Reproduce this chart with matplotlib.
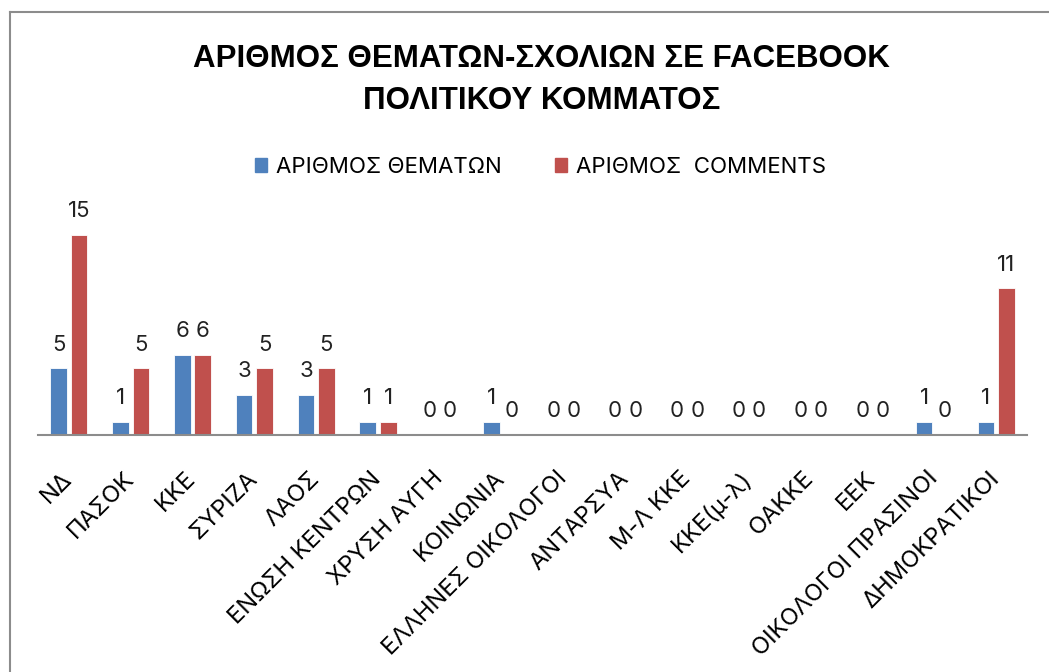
import matplotlib
matplotlib.use("Agg")
import matplotlib.pyplot as plt
from matplotlib.lines import Line2D
import numpy as np

plt.rcParams['font.family'] = ['Inter', 'Noto Sans', 'DejaVu Sans']

## party names and the two series
parties = ['ΝΔ', 'ΠΑΣΟΚ', 'ΚΚΕ', 'ΣΥΡΙΖΑ', 'ΛΑΟΣ', 'ΕΝΩΣΗ ΚΕΝΤΡΩΝ', 'ΧΡΥΣΗ ΑΥΓΗ',
           'ΚΟΙΝΩΝΙΑ', 'ΕΛΛΗΝΕΣ ΟΙΚΟΛΟΓΟΙ', 'ΑΝΤΑΡΣΥΑ', 'Μ-Λ ΚΚΕ', 'ΚΚΕ(μ-λ)',
           'ΟΑΚΚΕ', 'ΕΕΚ', 'ΟΙΚΟΛΟΓΟΙ ΠΡΑΣΙΝΟΙ', 'ΔΗΜΟΚΡΑΤΙΚΟΙ']
topics = [5, 1, 6, 3, 3, 1, 0, 1, 0, 0, 0, 0, 0, 0, 1, 1]
comments = [15, 5, 6, 5, 5, 1, 0, 0, 0, 0, 0, 0, 0, 0, 0, 11]
series_names = ['ΑΡΙΘΜΟΣ ΘΕΜΑΤΩΝ', 'ΑΡΙΘΜΟΣ  COMMENTS']
title = 'ΑΡΙΘΜΟΣ ΘΕΜΑΤΩΝ-ΣΧΟΛΙΩΝ ΣΕ FACEBOOK\nΠΟΛΙΤΙΚΟΥ ΚΟΜΜΑΤΟΣ'

blue = '#4F81BD'
red = '#C0504D'

fig = plt.figure(figsize=(10.49, 6.72), dpi=100)
W, H = 1049.0, 672.0
ax = fig.add_axes([38 / W, 1 - 435 / H, 989 / W, 16 * 13.35 / H])

x = np.arange(len(parties))
off = 0.165
bw = 0.27
b1 = ax.bar(x - off, topics, width=bw, color=blue, edgecolor='white', linewidth=0.6)
b2 = ax.bar(x + off, comments, width=bw, color=red, edgecolor='white', linewidth=0.6)

for bars, vals in ((b1, topics), (b2, comments)):
    for b, v in zip(bars, vals):
        ax.annotate(str(v), (b.get_x() + b.get_width() / 2, v),
                    xytext=(0, 12.7), textcoords='offset points',
                    ha='center', va='baseline', fontsize=16, color='#222222')

ax.set_xlim(-0.5, len(parties) - 0.5)
ax.set_ylim(0, 16)
ax.set_yticks([])
for s in ['top', 'right', 'left']:
    ax.spines[s].set_visible(False)
ax.spines['bottom'].set_color('#8c8c8c')
ax.spines['bottom'].set_linewidth(1.5)
ax.set_xticks(x)
ax.set_xticklabels(parties, rotation=45, ha='right', va='center',
                   rotation_mode='anchor', fontsize=17)
ax.tick_params(axis='x', length=0, pad=29)

fig.text(0.516, 1 - 80 / H, title, ha='center', va='center', fontsize=22.5,
         fontweight='bold', family=['Liberation Sans', 'DejaVu Sans'], linespacing=1.5)

handles = [plt.Rectangle((0, 0), 1, 1, color=blue), plt.Rectangle((0, 0), 1, 1, color=red)]
fig.legend(handles, series_names, loc='center', bbox_to_anchor=(0.515, 1 - 167 / H),
           ncol=2, frameon=False, fontsize=16, handlelength=0.55, handleheight=0.55,
           handletextpad=0.4, columnspacing=2.4)

## outer frame (only left and top edges visible)
fig.add_artist(Line2D([10 / W, 10 / W], [0, 1 - 12 / H], color='#8c8c8c', lw=1.5))
fig.add_artist(Line2D([10 / W, 1], [1 - 12 / H, 1 - 12 / H], color='#8c8c8c', lw=1.5))

fig.savefig('out.png', dpi=100)
